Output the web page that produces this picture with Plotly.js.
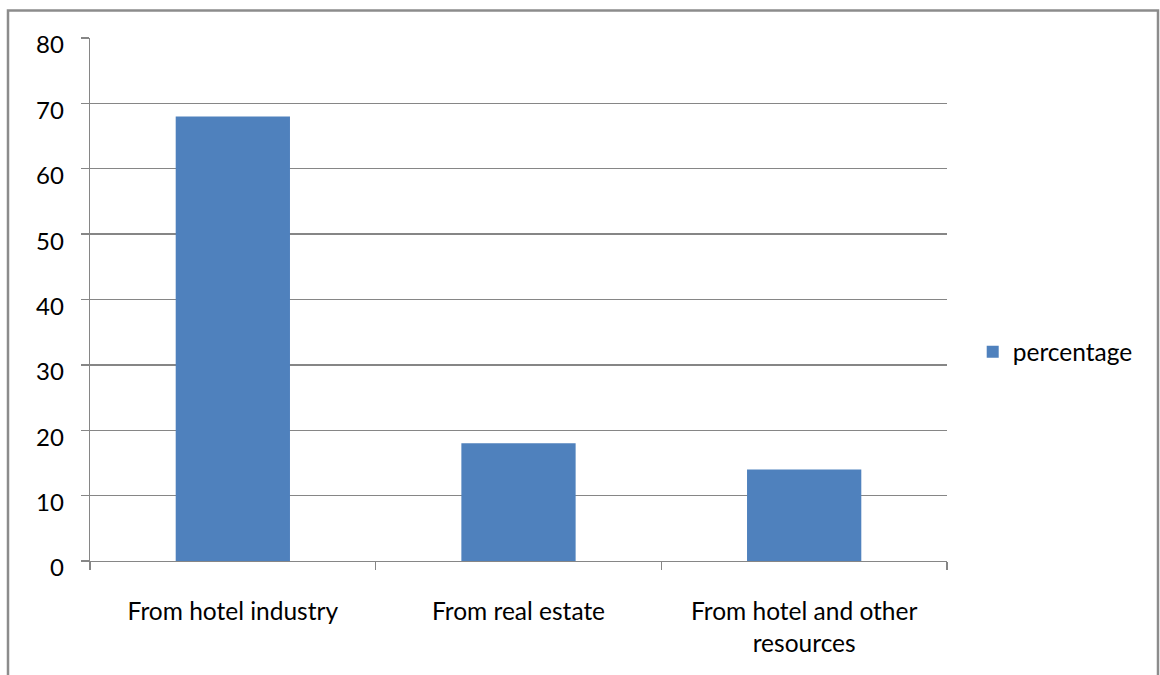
<!DOCTYPE html>
<html><head><meta charset="utf-8">
<script src="https://cdn.plot.ly/plotly-3.0.1.min.js"></script>
<style>html,body{margin:0;padding:0;background:#fff;}#chart{width:1160px;height:675px;}</style>
</head><body><div id="chart"></div>
<script>
const categories = ["From hotel industry", "From real estate", "From hotel and other<br>resources"];
const percentage = [68, 18, 14];
const seriesName = "percentage";

const F = "Lato, 'Open Sans', sans-serif";
const gray = "#868686";
const data = [{
  type: "bar", x: categories, y: percentage, name: seriesName,
  marker: {color: "#4F81BD"}, showlegend: true
}];
const layout = {
  width: 1160, height: 675,
  margin: {l: 90, r: 213, t: 37.5, b: 114},
  paper_bgcolor: "#fff", plot_bgcolor: "#fff",
  font: {family: F, size: 24, color: "#000"},
  bargap: 0.6,
  showlegend: true,
  legend: {x: 1.030, y: 0.40, xanchor: "left", yanchor: "middle", font: {family: F, size: 24.5, color: "#000"}, itemwidth: 30},
  xaxis: {
    type: "category", showline: true, linecolor: gray, linewidth: 1.3,
    ticks: "outside", tickson: "boundaries", ticklen: 8, tickcolor: gray, tickwidth: 1.3,
    showgrid: false, zeroline: false, ticklabelstandoff: 28,
    tickfont: {family: F, size: 24.5, color: "#000"}
  },
  yaxis: {
    range: [0, 80], dtick: 10, showline: true, linecolor: gray, linewidth: 1.3,
    ticks: "outside", ticklen: 8, tickcolor: gray, tickwidth: 1.3,
    showgrid: true, gridcolor: gray, gridwidth: 1.3, zeroline: false,
    ticklabelstandoff: 12, ticklabelshift: 7,
    tickfont: {family: F, size: 24, color: "#000"}
  },
  shapes: [{
    type: "rect", xref: "paper", yref: "paper",
    x0: (8-90)/857, x1: (1158-90)/857, y0: -0.4, y1: (561-10)/523.5,
    line: {color: "#8c8c8c", width: 2.5}, fillcolor: "rgba(0,0,0,0)", layer: "below"
  }]
};
Plotly.newPlot("chart", data, layout, {displayModeBar: false, staticPlot: true});
</script></body></html>
